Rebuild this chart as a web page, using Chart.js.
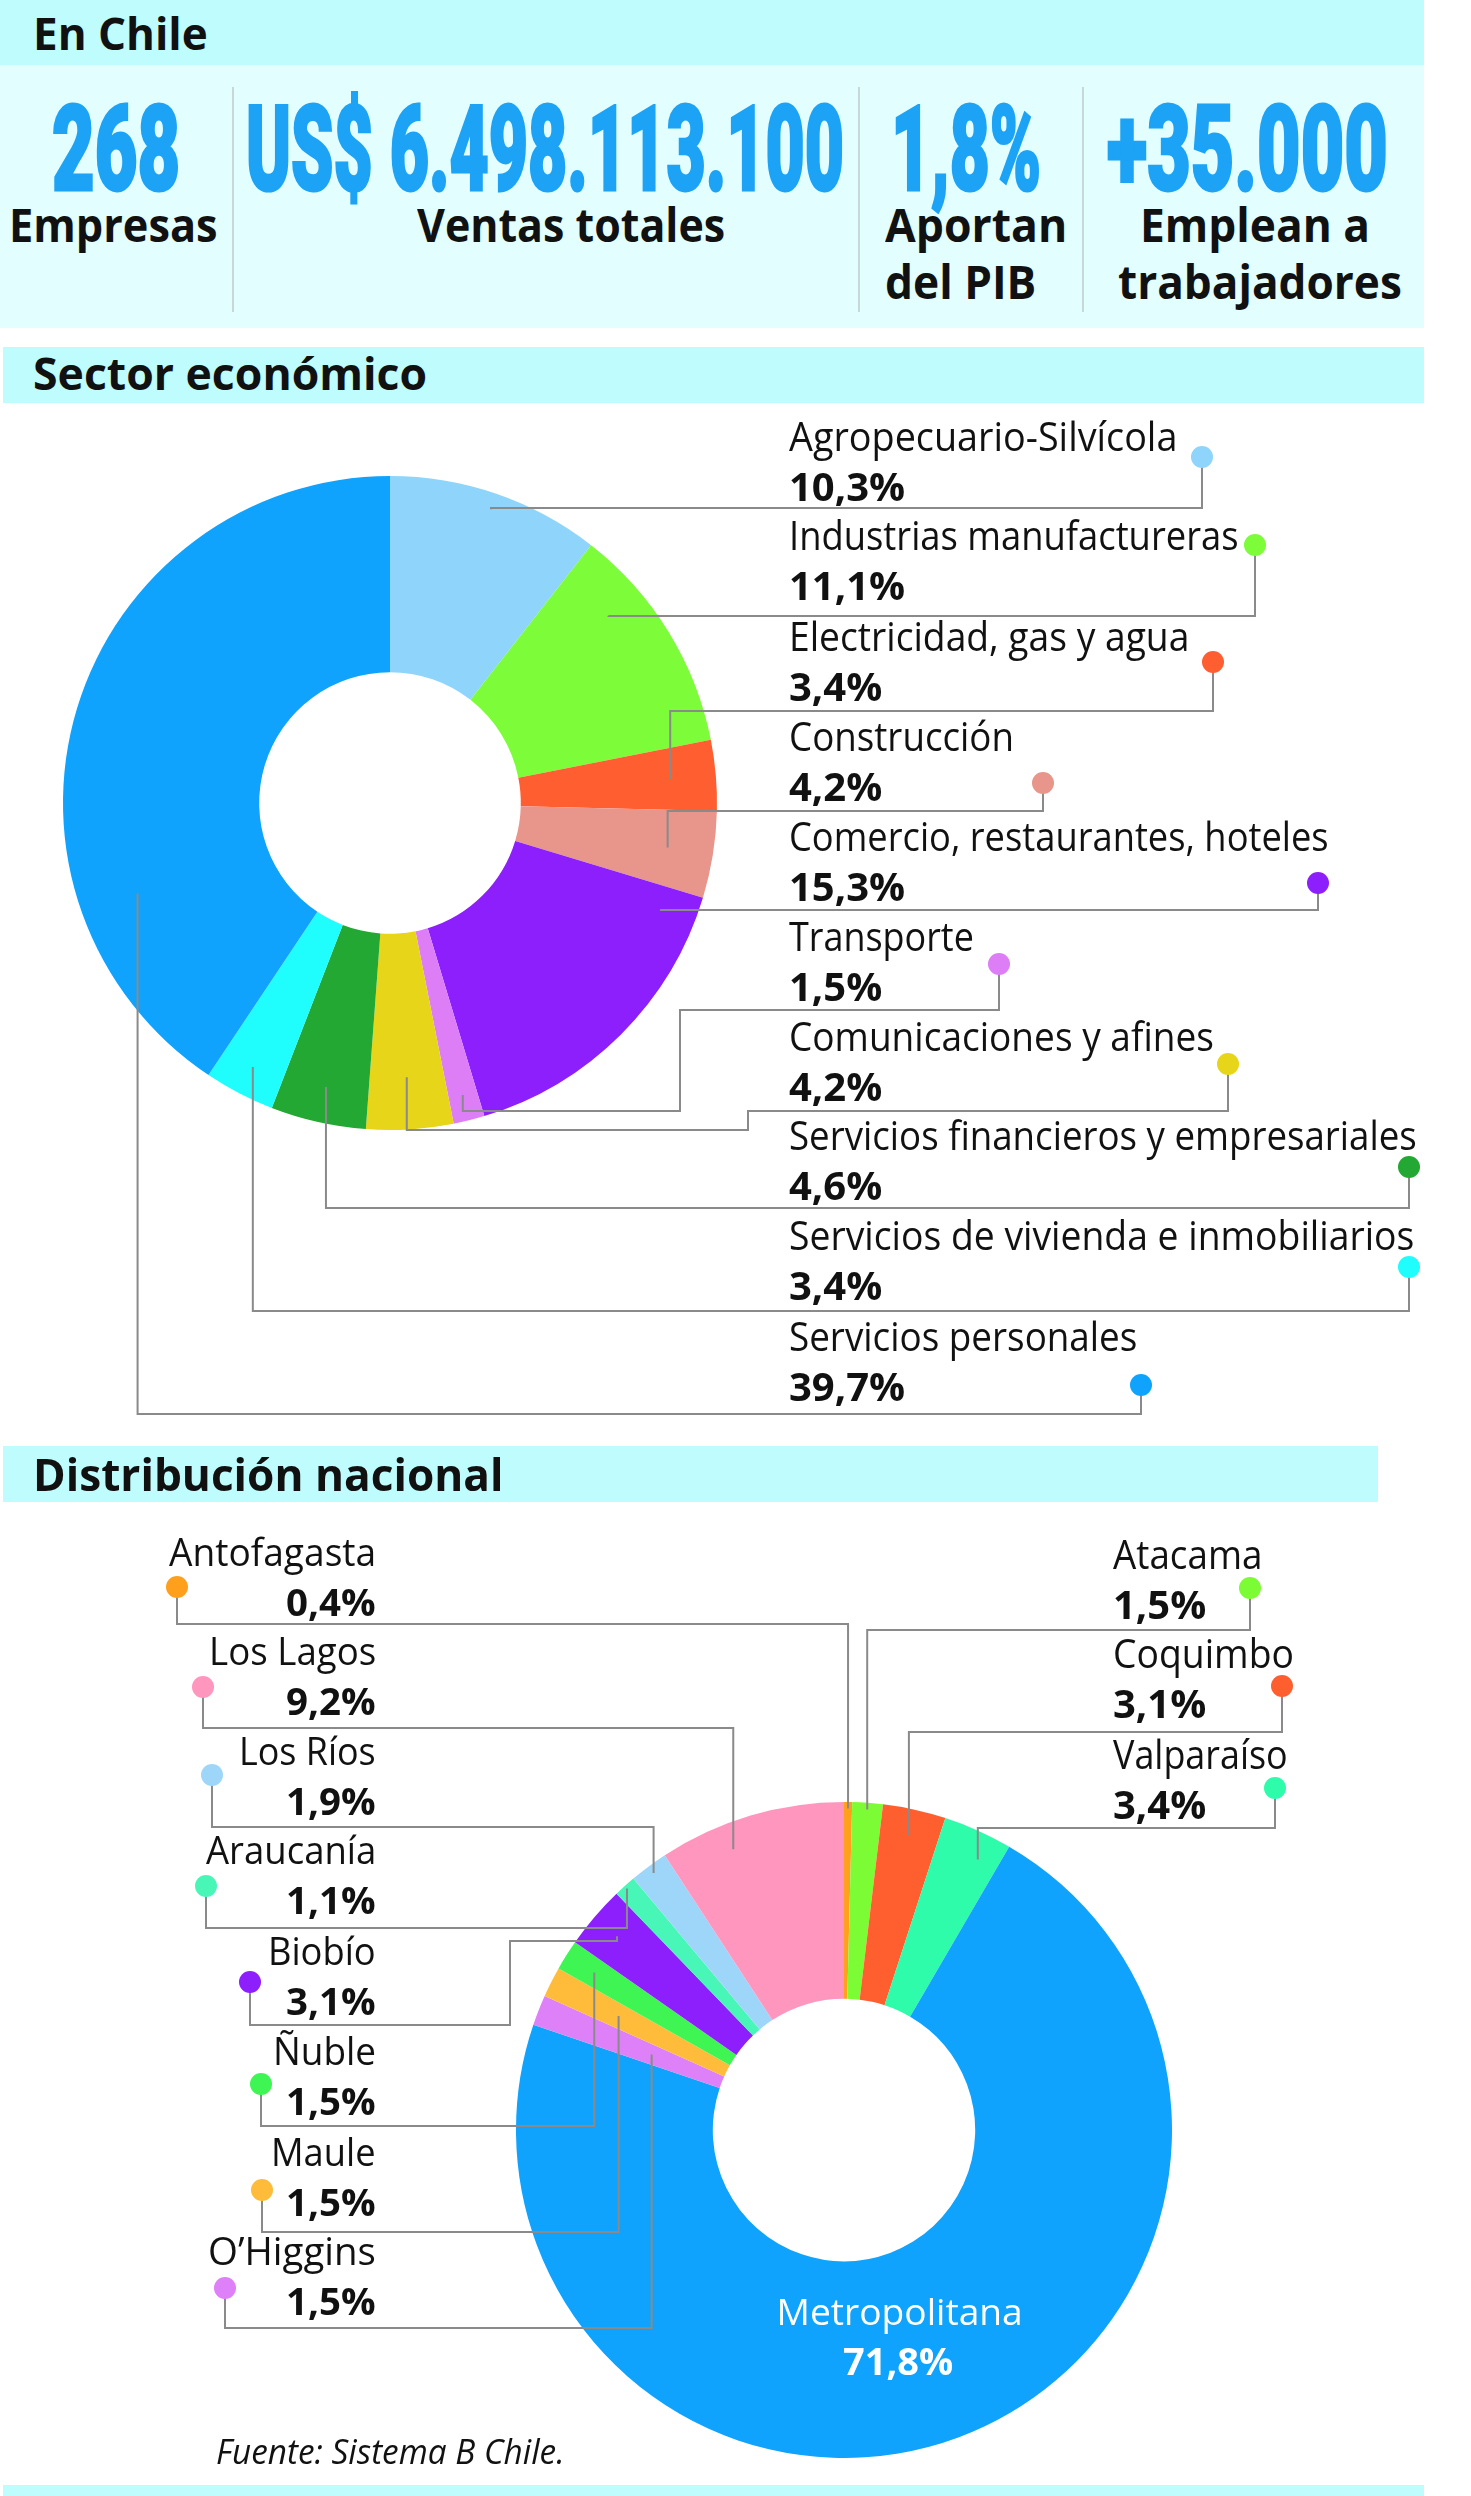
<!DOCTYPE html>
<html lang="es">
<head>
<meta charset="UTF-8">
<title>Empresas B en Chile</title>
<script src="https://cdn.jsdelivr.net/npm/chart.js"></script>
<style>
  body { margin: 0; background: #fff; }
  #page { position: relative; width: 1471px; height: 2496px; overflow: hidden; background: #fff; }
  .band { position: absolute; }
  .rule { position: absolute; top: 87px; width: 2px; height: 225px; background: #c6d8d8; }
  .box { position: absolute; left: 0; width: 1471px; z-index: 1; }
  .txt { position: absolute; white-space: nowrap; line-height: 1; z-index: 3; }
</style>
</head>
<body>
<div id="page">
  <div class="band" style="left:0;top:0;width:1424px;height:65px;background:#bffcfd"></div>
  <div class="band" style="left:0;top:65px;width:1424px;height:263px;background:#e2fefe"></div>
  <div class="rule" style="left:232px"></div>
  <div class="rule" style="left:858px"></div>
  <div class="rule" style="left:1082px"></div>
  <div class="band" style="left:3px;top:347px;width:1421px;height:56px;background:#bffcfd"></div>
  <div class="box" style="top:403px;height:1040px"><canvas id="sectorChart"></canvas></div>
  <div class="band" style="left:3px;top:1446px;width:1375px;height:56px;background:#bffcfd"></div>
  <div class="box" style="top:1502px;height:980px"><canvas id="regionChart"></canvas></div>
  <div class="band" style="left:3px;top:2485px;width:1421px;height:11px;background:#bffcfd"></div>
</div>

<script>
// datos
const statValues = ['268', 'US$ 6.498.113.100', '1,8%', '+35.000'];
const statCaptions = [['Empresas'], ['Ventas totales'], ['Aportan', 'del PIB'], ['Emplean a', 'trabajadores']];

const sectorNames = ['Agropecuario-Silvícola', 'Industrias manufactureras', 'Electricidad, gas y agua',
    'Construcción', 'Comercio, restaurantes, hoteles', 'Transporte', 'Comunicaciones y afines',
    'Servicios financieros y empresariales', 'Servicios de vivienda e inmobiliarios', 'Servicios personales'];
const sectorShares = [10.3, 11.1, 3.4, 4.2, 15.3, 1.5, 4.2, 4.6, 3.4, 39.7];

const regionNames = ['Antofagasta', 'Atacama', 'Coquimbo', 'Valparaíso', 'Metropolitana', 'O’Higgins',
    'Maule', 'Ñuble', 'Biobío', 'Araucanía', 'Los Ríos', 'Los Lagos'];
const regionShares = [0.4, 1.5, 3.1, 3.4, 71.8, 1.5, 1.5, 1.5, 3.1, 1.1, 1.9, 9.2];

const sectorColors = ['#8fd4fa', '#7dfc3a', '#ff5e30', '#e8958b', '#8c1ffb', '#dd7ef7', '#e6d518', '#23a833', '#1ffdfd', '#0fa3fd'];
const regionColors = ['#ffa01c', '#7cfc34', '#ff5f2f', '#2efcaa', '#0fa3fd', '#de80f7', '#ffbc3a', '#3ff553', '#8c1ffb', '#48f7b8', '#9ed6fa', '#ff96be'];

const fmt = v => v.toFixed(1).replace('.', ',') + '%';

// texto posicionado por linea base
const page = document.getElementById('page');
const SANS = "'Open Sans', 'Noto Sans', sans-serif";

function put(text, x, base, o) {
    const el = document.createElement('div');
    el.className = 'txt';
    el.style.font = `${o.style || 'normal'} ${o.weight || 400} ${o.size}px ${o.family || SANS}`;
    el.style.color = o.color || '#111';
    if (o.stroke) el.style.webkitTextStroke = o.stroke;
    const t = document.createElement('span');
    t.textContent = text;
    const mark = document.createElement('span');
    mark.style.cssText = 'display:inline-block;width:0;height:0;vertical-align:baseline';
    el.append(t, mark);
    page.appendChild(el);
    const b = mark.offsetTop, w = t.offsetWidth;
    const s = o.w ? o.w / w : 1;
    const align = o.align || 'left';
    el.style.transformOrigin = (align === 'right' ? 'right' : align === 'center' ? 'center' : 'left') + ' top';
    el.style.transform = `scaleX(${s})`;
    el.style.left = (align === 'right' ? x - w : align === 'center' ? x - w / 2 : x) + 'px';
    el.style.top = (base - b) + 'px';
}

// titulos
put('En Chile', 33, 50, { size: 44, weight: 700, w: 175 });
put('Sector económico', 33, 390, { size: 44, weight: 700, w: 394 });
put('Distribución nacional', 33, 1491, { size: 44, weight: 700, w: 471 });
put('Fuente: Sistema B Chile.', 216, 2464, { size: 34, style: 'italic', w: 349 });

// cifras destacadas
const statLayout = [
    { x: 52, w: 128, caps: [[9, 209]] },
    { x: 246, w: 598, caps: [[417, 308]] },
    { x: 891, w: 150, caps: [[885, 182], [885, 151]] },
    { x: 1107, w: 281, caps: [[1140, 230], [1118, 284]] }
];
statValues.forEach((v, i) => {
    const L = statLayout[i];
    put(v, L.x, 190, { size: 118, weight: 900, family: "'Roboto', sans-serif", color: '#1ca3f6', w: L.w, stroke: '3px #1ca3f6' });
    statCaptions[i].forEach((c, j) => {
        put(c, L.caps[j][0], 242 + j * 57, { size: 46, weight: 700, w: L.caps[j][1] });
    });
});

// etiquetas y guias
const sectorLayout = [
    { i: 0, base: 451, w: 388, dot: [1202, 457], line: 508, r: 0.95 },
    { i: 1, base: 550, w: 450, dot: [1255, 545], line: 616, r: 0.88, t: 0.28 },
    { i: 2, base: 651, w: 400, dot: [1213, 662], line: 711, r: 0.86 },
    { i: 3, base: 751, w: 225, dot: [1043, 783], line: 811, r: 0.86 },
    { i: 4, base: 851, w: 540, dot: [1318, 883], line: 910, r: 0.89, t: 0.08 },
    { i: 5, base: 951, w: 185, dot: [999, 964], line: 1010, r: 0.92, via: [680, 1111] },
    { i: 6, base: 1051, w: 425, dot: [1228, 1064], line: 1111, r: 0.84, via: [748, 1130] },
    { i: 7, base: 1150, w: 628, dot: [1409, 1167], line: 1208, r: 0.89 },
    { i: 8, base: 1250, w: 625, dot: [1409, 1267], line: 1311, r: 0.91 },
    { i: 9, base: 1351, w: 348, dot: [1141, 1385], line: 1414, r: 0.82, t: 0.25 }
];
sectorLayout.forEach(L => {
    put(sectorNames[L.i], 789, L.base, { size: 40, w: L.w });
    put(fmt(sectorShares[L.i]), 789, L.base + 50, { size: 40, weight: 700 });
});

const regionLayout = [
    { i: 0, x: 376, align: 'right', base: 1566, w: 207, dot: [177, 1587], line: 1624, r: 0.98 },
    { i: 1, x: 1113, base: 1569, w: 149, dot: [1250, 1588], line: 1630, r: 0.98 },
    { i: 2, x: 1113, base: 1668, w: 181, dot: [1282, 1686], line: 1732, r: 0.92 },
    { i: 3, x: 1113, base: 1769, w: 175, dot: [1275, 1788], line: 1828, r: 0.92, t: 0.68 },
    { i: 5, x: 376, align: 'right', base: 2265, w: 168, dot: [225, 2288], line: 2328, r: 0.63 },
    { i: 6, x: 376, align: 'right', base: 2166, w: 105, dot: [262, 2190], line: 2232, r: 0.77 },
    { i: 7, x: 376, align: 'right', base: 2065, w: 103, dot: [261, 2084], line: 2126, r: 0.90 },
    { i: 8, x: 376, align: 'right', base: 1965, w: 108, dot: [250, 1982], line: 2025, r: 0.91, via: [510, 1941] },
    { i: 9, x: 376, align: 'right', base: 1864, w: 170, dot: [206, 1886], line: 1928, r: 0.99 },
    { i: 10, x: 376, align: 'right', base: 1765, w: 137, dot: [212, 1775], line: 1827, r: 0.975 },
    { i: 11, x: 376, align: 'right', base: 1665, w: 167, dot: [203, 1687], line: 1728, r: 0.92, t: 0.35 }
];
regionLayout.forEach(L => {
    if (L.align === 'right') {
        put(regionNames[L.i], L.x, L.base, { size: 38, w: L.w, align: 'right' });
        put(fmt(regionShares[L.i]), L.x, L.base + 50, { size: 38, weight: 700, w: 90, align: 'right' });
    } else {
        put(regionNames[L.i], L.x, L.base, { size: 40, w: L.w });
        put(fmt(regionShares[L.i]), L.x, L.base + 50, { size: 40, weight: 700 });
    }
});
put(regionNames[4], 899, 2325, { size: 37, color: '#fff', w: 246, align: 'center' });
put(fmt(regionShares[4]), 898, 2375, { size: 38, weight: 700, color: '#fff', align: 'center' });

function leaders(specs, top) {
    return {
        id: 'leaders',
        afterDatasetsDraw(chart) {
            const ctx = chart.ctx;
            const meta = chart.getDatasetMeta(0);
            const colors = chart.data.datasets[0].backgroundColor;
            ctx.save();
            ctx.strokeStyle = '#8a8a8a';
            ctx.lineWidth = 2;
            specs.forEach(s => {
                const arc = meta.data[s.i];
                const a = arc.startAngle + (arc.endAngle - arc.startAngle) * (s.t ?? 0.5);
                const r = arc.outerRadius * s.r;
                const ax = arc.x + Math.cos(a) * r, ay = arc.y + Math.sin(a) * r;
                const dx = s.dot[0], dy = s.dot[1] - top, ly = s.line - top;
                ctx.beginPath();
                ctx.moveTo(dx, dy);
                ctx.lineTo(dx, ly);
                let y = ly;
                if (s.via) {
                    ctx.lineTo(s.via[0], ly);
                    y = s.via[1] - top;
                    ctx.lineTo(s.via[0], y);
                }
                ctx.lineTo(ax, y);
                ctx.lineTo(ax, ay);
                ctx.stroke();
            });
            specs.forEach(s => {
                ctx.fillStyle = colors[s.i];
                ctx.beginPath();
                ctx.arc(s.dot[0], s.dot[1] - top, 11, 0, Math.PI * 2);
                ctx.fill();
            });
            ctx.restore();
        }
    };
}

function donut(id, names, values, colors, top, height, cx, cy, R, specs) {
    return new Chart(document.getElementById(id), {
        type: 'doughnut',
        data: {
            labels: names,
            datasets: [{ data: values, backgroundColor: colors, borderWidth: 0, hoverOffset: 0 }]
        },
        options: {
            responsive: true,
            maintainAspectRatio: false,
            animation: false,
            events: [],
            cutout: '40%',
            layout: { padding: { left: cx - R, right: 1471 - cx - R, top: cy - top - R, bottom: top + height - cy - R } },
            plugins: { legend: { display: false }, tooltip: { enabled: false } }
        },
        plugins: [leaders(specs, top)]
    });
}

donut('sectorChart', sectorNames, sectorShares, sectorColors, 403, 1040, 390, 803, 327, sectorLayout);
donut('regionChart', regionNames, regionShares, regionColors, 1502, 980, 844, 2130, 328, regionLayout);
</script>
</body>
</html>
